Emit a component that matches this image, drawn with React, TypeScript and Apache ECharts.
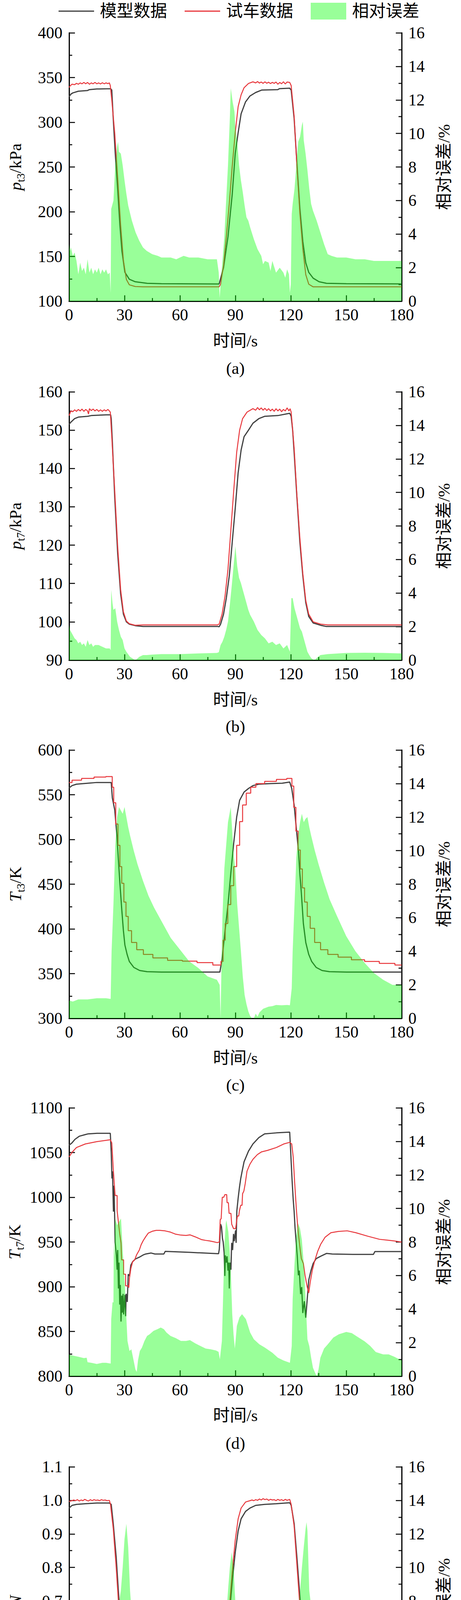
import React, { useEffect, useRef } from 'react';
import * as echarts from 'echarts';

// ---------------- data (time in s) ----------------
const LEGEND_NAMES = ['模型数据', '试车数据', '相对误差'];
const PANEL_LABELS = ['(a)', '(b)', '(c)', '(d)', '(e)'];
const X_NAME = '时间/s';
const RIGHT_NAME = '相对误差/%';

const aModel = [[0,328.6],[1,331.5],[2,332.8],[5,334.7],[10,335.5],[11,336.5],[15,337.2],[22.5,337.5],[23.1,336],[23.9,304],[25,264.5],[26.3,225],[27.5,185],[28.6,156],[30.2,132.3],[32.6,124.5],[35.8,121.7],[42.2,120],[50,119.5],[81.2,119.2],[83.6,137.6],[86,172],[88.3,219.6],[89.9,264.6],[91.5,288.4],[93.1,309.5],[95.5,322.8],[97.9,329.4],[101,333.3],[104.2,336],[113,336.5],[113.8,337.6],[119.4,338.1],[120.2,336],[121.8,304.2],[123.3,254],[124.9,203.7],[126.5,166.7],[128.1,142.9],[129.7,132.3],[132.1,125.7],[135.3,121.7],[139.3,120],[150,119.5],[180,119.3]];
const aTest = [[0,339],[0.5,340.5],[1.6,342.6],[3,342],[4,343.5],[5,342.5],[6,344],[7,343],[8,344.5],[9,343],[10,344.5],[11,342.5],[12,344],[13,343],[14,344.5],[15,343],[16,344],[17,342.8],[18,344.2],[19,343],[20,344],[21,343.2],[21.8,344],[22.3,341],[23.1,325],[24.7,288],[26.3,238],[27.9,185],[29.4,145.5],[31,124.3],[32.6,118.3],[35.8,116.4],[40,116],[81.2,116],[82,119],[83.6,140],[85.1,172],[86.7,209],[88.3,251],[89.9,288],[91.5,317.5],[93.1,330.7],[94.7,338.6],[97.1,343.4],[99.5,345.2],[101,344],[102,345.5],[103,343.8],[104,345],[105,343.5],[106,345.2],[107,343.6],[108,344.8],[109,343.2],[110,344.6],[111,343.5],[112,345],[113,342.5],[114,344.5],[115,343],[116,345.3],[117,342.8],[118,345],[119.4,344.5],[120.2,341],[121.8,307],[123.3,251.3],[124.9,198.4],[126.5,158.7],[128.1,129.6],[129.7,119],[132.1,116],[180,116]];
const aErr = [[0,3.4],[0.5,3.0],[1,3.2],[2,2.7],[3,2.9],[4,2.4],[5,1.6],[6,2.3],[7,1.8],[8,2.0],[9,1.6],[10,2.5],[11,1.7],[12,2.0],[13,1.6],[14,1.9],[15,1.7],[16,2.0],[17,1.6],[18,1.9],[19,1.7],[20,1.9],[21,1.6],[22,1.7],[22.5,0.5],[22.8,5.5],[24,6.0],[25,8.1],[26,9.2],[26.5,9.5],[27,8.9],[28,8.8],[29,8.1],[30,7.2],[31,6.4],[32,5.7],[34,4.8],[36,4.1],[38,3.6],[40,3.2],[42,3.0],[45,2.8],[48,2.7],[50,2.6],[55,2.6],[58,2.5],[60,2.6],[62,2.7],[65,2.6],[70,2.6],[75,2.5],[80,2.5],[81,1.7],[81.5,0.2],[82,1.0],[83,2.4],[84,3.8],[85,6.0],[86,8.1],[87,10.9],[87.5,12.7],[88.5,11.9],[89.5,11.3],[90,10.3],[91,9.5],[92,8.1],[93,7.2],[94,6.5],[95,5.7],[96,5.0],[97,4.8],[98,4.4],[100,3.7],[102,3.1],[104,2.7],[105,2.2],[106,2.4],[108,2.3],[109,1.8],[110,2.4],[112,1.7],[114,2.0],[116,1.7],[117,1.4],[118,1.9],[119,1.6],[119.5,0.5],[120,1.0],[120.5,5.2],[121,5.8],[122,6.7],[123,8.1],[124,9.5],[125,9.8],[126,10.5],[126.5,10.7],[127,9.6],[128,8.8],[129,7.8],[130,6.7],[131,5.8],[132,5.4],[134,4.8],[136,4.1],[138,3.4],[140,2.8],[142,2.7],[145,2.6],[150,2.6],[155,2.5],[160,2.5],[165,2.4],[170,2.4],[175,2.4],[180,2.4]];

const bModel = [[0,151.5],[1,152.1],[3,153],[5,153.4],[10,153.6],[12,153.8],[20,154],[22.5,154],[22.8,153],[23.4,147.1],[24.7,132.5],[26.3,117.8],[27.9,107.3],[29.4,102],[31,100],[32.6,99.4],[35.8,99],[40,98.8],[80.4,98.8],[81.2,98.7],[82,99.4],[83.6,102],[85.1,106.2],[86.7,112],[88.3,120.8],[89.9,129.5],[91.5,138.9],[93.1,144.8],[94.7,148.3],[97.1,150],[99.5,151.8],[102.7,153],[105.8,153.6],[113,153.8],[119.4,154.4],[120.2,153.6],[121,150],[121.8,144.2],[123.3,132.5],[124.9,120.8],[126.5,112],[128.1,105],[129.7,101.4],[132.1,99.7],[136.1,99.1],[139,98.8],[180,98.8]];
const bTest = [[0,153.8],[1,155],[2,154.8],[3,155.3],[4,154.9],[5,155.4],[6,155],[7,155.5],[8,154.9],[9,155.4],[10,155],[10.5,154.2],[11,155.6],[12,155.1],[13,155.5],[14,155],[15,155.4],[16,154.9],[17,155.3],[18,154.9],[19,155.3],[20,155],[21,155.4],[21.8,155],[22.3,154.7],[23.1,148.3],[24.7,134.2],[26.3,119.6],[27.9,108.4],[29.4,102.6],[31,100.2],[32.6,99.5],[35.8,99.1],[40,99.2],[80.4,99.2],[81.2,99.4],[82.8,102],[84.4,106.7],[86,113.7],[87.5,123.6],[89.1,134.2],[90.7,144.2],[92.3,150],[93.9,153],[96.3,154.7],[99.5,155.6],[101,155.2],[102,155.9],[103,155.3],[104,155.8],[105,155.2],[106,155.7],[107,155.1],[108,155.6],[109,155],[110,155.5],[111,154.9],[112,155.6],[113,155],[114,155.5],[115,154.8],[116,155.4],[117,155],[118,155.8],[119,155],[119.6,155.6],[120.2,154.7],[121.8,145.4],[123.3,133],[124.9,121.9],[126.5,112.6],[128.1,105.6],[129.7,102],[132.1,100],[136.1,99.4],[140,99.2],[180,99.2]];
const bErr = [[0,2.1],[0.5,1.8],[1,1.7],[2,1.5],[3,1.3],[4,1.2],[5,1.0],[6,1.1],[7,0.9],[8,1.0],[9,0.8],[10,1.2],[11,0.9],[12,1.0],[13,0.8],[14,0.9],[16,0.9],[18,0.8],[20,0.7],[22,0.7],[22.5,0.6],[22.8,4.2],[23.5,3.4],[24,3.0],[25,3.1],[26,2.3],[27,1.8],[28,1.4],[29,1.2],[30,0.7],[31,0.5],[33,0.2],[35,0.05],[36,0],[38,0.2],[40,0.3],[42,0.3],[45,0.33],[50,0.36],[60,0.36],[70,0.4],[80,0.43],[81,0.47],[82,0.9],[83,1.1],[84,1.4],[85,1.8],[86,2.3],[87,3.3],[88,4.4],[89,5.6],[90,6.8],[91,5.6],[92,4.9],[93,4.6],[94,4.2],[95,3.8],[96,3.4],[97,3.0],[98,2.7],[100,2.3],[102,1.8],[104,1.5],[106,1.3],[108,1.0],[110,1.1],[112,0.9],[114,1.0],[116,0.7],[118,0.9],[119.5,0.5],[120.3,3.7],[121,3.7],[122,3.1],[123,2.7],[124,2.3],[125,1.9],[126,1.7],[127,1.3],[128,0.9],[129,0.5],[130,0.3],[131,0.13],[132,0.04],[133,0],[134,0.13],[136,0.3],[140,0.36],[150,0.43],[160,0.44],[170,0.43],[180,0.4]];

const cModel = [[0,557.6],[1.6,560.2],[4,561.8],[10.3,562.9],[15,563.7],[22.8,563.7],[23.4,546.5],[24.7,533],[25.9,504],[26.6,480],[27.5,451],[28.5,422],[29.4,398],[30.2,382],[31.4,371.5],[32.6,363.6],[35,357],[38.2,353.5],[42.2,352.2],[50,351.7],[81.6,351.7],[82.8,366.2],[84.4,398],[86,427],[87.5,461.6],[89.1,496],[90.7,525],[92.3,543.8],[94.7,553],[97.1,557],[99.5,560.2],[102.7,561.8],[109,562.4],[115.4,562.9],[119.4,564.2],[120.5,557],[121.8,538.5],[123,512],[124.1,488],[124.9,461.6],[125.7,440.4],[126.8,406],[128.1,384.8],[129.7,371.5],[131.3,363.6],[133.7,357],[136.9,353.5],[140.9,352.2],[150,351.7],[180,351.7]];
const cTest = [[0,563.7],[3.2,566.3],[10.3,568.2],[16.7,569.8],[23.1,570.3],[23.6,558.4],[24.7,541],[25.8,517.3],[27.1,493.5],[27.9,469.6],[29.1,451],[30.2,430],[31.4,414],[32.6,398],[35,384.8],[38.2,376.8],[42.2,371.5],[48.5,367.6],[58.1,364.9],[64.5,364],[74,362.3],[81.6,359.6],[82.8,363.6],[83.9,387.4],[85.1,406],[86.7,427.2],[88.3,448.4],[89.9,469.6],[91.5,493.5],[93.1,520],[94.7,538.5],[97.1,551.8],[99.5,558.4],[102.7,562.4],[109,565],[115.4,567.1],[120.2,568.2],[121,559.7],[122.2,535.9],[123.3,509.4],[124.6,488.2],[125.7,467],[126.8,445.8],[128.1,430],[129.7,414],[131.3,400.7],[134.5,384.8],[137.7,376.8],[142.4,371.5],[148.8,368.4],[156.8,365.5],[163.1,363.6],[172.7,361.5],[180,359.6]];
const cErr = [[0,1.06],[2,1.0],[5,1.13],[10,1.13],[15,1.2],[20,1.2],[22.5,1.16],[23,4.0],[24,6.8],[25,10.3],[26,12.0],[27,12.6],[28,12.4],[29,12.2],[30,12.6],[31,12.0],[32,11.4],[33,10.9],[35,10.0],[37,9.2],[40,8.2],[43,7.3],[46,6.6],[50,5.8],[55,4.8],[60,4.1],[65,3.4],[70,3.0],[75,2.5],[80,2.3],[81.5,2.0],[82,0],[82.5,3.3],[83,6.1],[84,8.9],[85,10.3],[86,11.7],[87,12.3],[87.5,12.6],[88,11.7],[89,9.8],[90,8.9],[91,6.8],[92,5.4],[93,4.0],[94,2.5],[95,1.4],[96,0.85],[97,0.42],[98,0.14],[99,0],[100,0],[101,0.28],[102,0.1],[103,0.35],[105,0.57],[108,0.7],[110,0.73],[112,0.8],[115,0.78],[118,0.8],[119.5,0.78],[120.5,1.8],[121,4.0],[122,6.8],[123,9.6],[124,10.9],[125,11.7],[126,12.2],[127,11.7],[128,11.9],[129,12.0],[130,11.4],[131,10.9],[133,10.0],[135,9.2],[138,8.1],[141,7.1],[145,6.1],[150,4.9],[155,4.0],[160,3.3],[165,2.7],[170,2.3],[175,2.0],[180,2.0]];

const dModel = [[0,1058.2],[1.6,1060.9],[3.2,1064.8],[5.6,1068.3],[8.8,1070.1],[10.3,1070.9],[15.1,1071.5],[22.3,1071.5],[22.8,1050.3],[23.2,1021],[23.5,1029],[24,984],[24.3,1013],[24.6,985],[24.9,950],[25.6,935],[26,919],[26.3,941],[26.7,898],[27,927],[27.4,880],[27.7,902],[28.1,861],[28.5,890],[28.8,871],[29.2,892],[29.5,869],[30.2,891],[30.6,867],[30.9,892],[31.5,883],[32,914],[32.7,912],[33.4,924],[34.4,928],[35.9,931],[38,933],[40.1,935.5],[41.5,936.6],[44.3,937.7],[46.4,936.6],[51.3,936.6],[52,939.5],[65.4,938.4],[80.9,936.9],[81.3,942],[82,970],[82.5,967],[83,954],[83.4,950],[83.9,938],[84.3,912],[84.6,935],[85,927],[85.5,934],[86,918],[86.4,927],[86.7,898],[87.1,927],[87.6,919],[88,949],[88.5,941],[89,959],[89.4,951],[90.1,963],[90.4,949],[90.8,985],[91.5,999],[92.2,1011],[92.9,1021],[93.6,1028.5],[94.7,1039.7],[97.1,1051.6],[99.5,1059.6],[102.7,1066.7],[105.8,1070.9],[112.2,1072],[119.4,1072.8],[120.2,1039.7],[120.7,1018.6],[121.3,997.4],[121.8,984.2],[122.3,965.7],[122.9,949.8],[123.5,934],[124.1,912.8],[124.6,918],[125.3,891.7],[125.9,899.6],[126.5,870.6],[127.3,883.8],[128.1,865.3],[128.9,886.4],[129.7,907.5],[130.9,918],[132.1,926],[133.7,931.4],[136.1,934],[139.3,937.2],[142.4,936.6],[153.6,936.1],[164.7,936.1],[165.5,939.3],[180,939.3]];
const dTest = [[0,1045],[1.6,1050.3],[4,1055.6],[8.8,1059.6],[15.1,1062.2],[22.3,1064.3],[23.1,1060.9],[23.9,1031.8],[24.9,1002],[26,1002],[26,985],[26.7,972],[27.4,959],[28.1,949],[28.4,930],[29.5,930],[29.5,914],[30.6,914],[30.6,901],[32,901],[32.3,899],[32.7,910],[33.4,920],[34.4,928],[35.5,930],[36.5,935.5],[38,941],[39,947],[40.1,951.5],[41.5,956],[42.9,960],[45,962],[47.1,963],[49.2,963],[52,962.4],[54.9,961],[57.7,958.7],[60.5,957.7],[63.3,957.3],[65.4,958],[68.2,955.8],[71.8,952.6],[73.9,951.8],[76,951.2],[78.1,950.3],[80.2,949.3],[81.3,950],[81.8,975],[82.3,976],[82.9,1000],[83.7,1000],[84.3,1003],[85.3,1003],[85.5,994],[86.2,994],[86.6,982],[87.6,982],[88,970],[89,965],[90.1,965],[90.4,969],[91.1,979],[91.8,979],[92.2,985],[92.9,991],[93.6,991],[93.9,1004],[94.6,1007],[95.3,1015],[96.3,1029.2],[97.9,1037.1],[99.5,1042.4],[101.9,1047.7],[104.2,1050.8],[107.4,1052.4],[112.2,1055.6],[116.2,1059.6],[119.4,1061.4],[120.5,1059.6],[121.3,1045],[122.1,1016],[123,986.9],[123.8,965.7],[124.9,944.6],[125.7,931.4],[126.8,926],[127.7,912.8],[128.9,899.6],[129.7,893],[130.5,905],[131.6,918],[132.9,928.7],[134.5,939.3],[136.1,947.2],[138.5,955.2],[141.7,960.4],[145.7,961.8],[150.5,962.5],[155.2,960.4],[161.6,956.5],[168,953],[172.7,952],[175.9,951.2],[180,949.9]];
const dErr = [[0,1.3],[2,1.23],[5,1.16],[8,1.08],[9.5,1.1],[10,0.83],[12,0.8],[15,0.73],[18,0.8],[20,0.8],[22.5,0.75],[22.8,3.4],[23.5,4.4],[24,4.4],[24.2,8.0],[24.6,7.1],[24.9,9.4],[26,9.0],[27,9.2],[28.1,9.4],[29,7.5],[30.2,5.4],[30.9,3.7],[31.6,2.1],[32.7,1.5],[33.7,1.6],[34.8,1.0],[35.9,0.4],[36.6,0.25],[37.3,0.95],[38.3,1.5],[39.4,1.7],[40.8,2.1],[42.2,2.4],[43.6,2.5],[45.7,2.7],[47.8,2.8],[49.6,2.9],[51.3,2.8],[52.7,2.6],[54.9,2.4],[57.7,2.27],[60.5,2.1],[63.3,2.1],[65.4,2.15],[68.2,1.96],[71.1,1.8],[73.9,1.65],[76.7,1.6],[79.5,1.53],[80.9,1.45],[81.3,1.2],[81.6,1.0],[82.7,2.1],[83.4,4.9],[84.1,7.85],[84.8,9.1],[85.1,9.3],[86.2,8.6],[86.9,7.5],[87.6,6.0],[88.3,3.7],[89,2.5],[89.7,1.65],[90.1,2.1],[90.8,3.0],[92.2,3.5],[93.6,3.7],[95.7,3.4],[98,2.6],[100,2.2],[103,1.9],[106,1.7],[110,1.4],[113,1.1],[116,0.94],[119.5,0.8],[120.5,1.8],[121,4.6],[122,6.7],[123,8.4],[124,9.1],[125,8.8],[126,8.1],[127,6.7],[128,4.6],[129,2.2],[130,1.8],[131,1.1],[132,0.5],[133,0.24],[134,0],[135,0.4],[136,1.1],[138,1.65],[140,1.9],[143,2.3],[146,2.5],[150,2.64],[153,2.57],[156,2.35],[160,2.07],[163,1.8],[166,1.44],[170,1.3],[173,1.3],[176,1.16],[180,0.94]];

const eModel = [[0,0.977],[1.6,0.985],[4,0.988],[8.8,0.99],[15,0.992],[21.8,0.992],[22.8,0.988],[23.9,0.931],[25.5,0.83],[27.1,0.693],[28.2,0.6],[29.4,0.513],[31,0.441],[32.6,0.405],[35,0.387],[38.2,0.376],[42.2,0.372],[51.7,0.37],[81.2,0.37],[82,0.383],[83.6,0.455],[85.1,0.556],[86.7,0.657],[88.3,0.758],[89.9,0.844],[91.5,0.909],[93.1,0.945],[95.5,0.967],[97.9,0.977],[101,0.985],[105.8,0.988],[112.2,0.99],[119.4,0.993],[120.2,0.985],[121.8,0.931],[123.3,0.83],[124.9,0.714],[126.5,0.6],[128.1,0.505],[129.7,0.441],[131.3,0.405],[133.7,0.383],[137.7,0.374],[142.4,0.37],[164.7,0.37],[166.3,0.367],[180,0.367]];
const eTest = [[0,0.997],[1.6,0.999],[2.5,1.001],[3.5,0.999],[4.5,1.002],[5.5,0.998],[6.5,1.001],[7.5,0.999],[8.5,1.003],[9.5,1.0],[10.5,0.998],[11.5,1.002],[12.5,0.999],[13.5,1.002],[14.5,1.0],[15.5,1.001],[16.5,0.999],[17.5,1.002],[18.5,1.0],[19.5,1.001],[20.5,0.999],[21.8,1.0],[22.4,0.988],[23.9,0.916],[25.5,0.8],[27.1,0.664],[28.2,0.563],[29.4,0.469],[31,0.405],[32.6,0.376],[35,0.365],[39,0.361],[58,0.361],[59,0.359],[64,0.359],[65,0.361],[81.2,0.361],[82,0.376],[83.6,0.462],[85.1,0.57],[86.7,0.678],[88.3,0.787],[89.9,0.88],[91.5,0.945],[93.1,0.977],[95.5,0.995],[97.9,0.999],[99,1.001],[100,0.999],[101,1.002],[102,1.0],[103,1.004],[104,1.001],[105,1.005],[106,1.002],[107,1.004],[108,1.0],[109,1.003],[110,1.001],[111,1.002],[112,0.999],[113,1.003],[114,1.0],[115,1.002],[116,0.999],[117,1.003],[118,1.0],[119.4,1.003],[120.2,0.988],[121.8,0.923],[123.3,0.808],[124.9,0.686],[126.5,0.563],[128.1,0.462],[129.7,0.397],[131.3,0.372],[133.7,0.365],[137.7,0.361],[180,0.361]];
const eErr = [[0,1.66],[1,1.5],[2,1.37],[3,1.3],[4,1.22],[5,1.0],[6,1.15],[7,1.05],[8,1.08],[9,1.0],[10,0.65],[11,1.15],[12,1.05],[13,0.95],[14,1.0],[15,0.9],[16,1.15],[17,1.0],[18,0.94],[20,0.94],[22.5,0.94],[23,3.5],[25,5.0],[26,6.0],[27,7.9],[28,8.6],[29,10.0],[30,11.7],[31,12.6],[32,11.2],[33,8.6],[34,7.1],[35,6.1],[36,5.4],[37,4.8],[38,4.4],[40,3.8],[42,3.4],[43.5,3.3],[44,3.6],[45,3.2],[46,2.8],[52,2.7],[53,2.2],[58.5,2.2],[59,2.8],[63,2.8],[63.5,2.2],[81,2.16],[81.5,0.07],[82,2.8],[83,5.0],[84,6.3],[85,7.0],[86,8.6],[87,10.0],[88,10.9],[89,10.0],[90,7.9],[91,6.0],[92,4.8],[93,4.1],[95,3.4],[97,2.8],[100,2.2],[103,1.8],[105,1.5],[108,1.2],[110,1.15],[112,1.0],[115,0.8],[118,0.65],[119.5,0.5],[120,2.8],[121,3.7],[122,4.25],[123,5.7],[124,7.1],[125,8.6],[126,10.0],[127,11.2],[128,12.3],[128.5,12.7],[129,12.2],[130,8.6],[131,7.7],[132,7.1],[134,5.7],[136,4.5],[138,3.5],[140,2.8],[142,2.4],[146,2.4],[147,2.2],[165,2.2],[166,1.95],[180,1.95]];

// ---------------- layout / style ----------------
const FONT = '"Liberation Serif", "Times New Roman", "Noto Sans CJK SC", serif';
const W = 1181;
const H = 4612;
const GRID_LEFT = 177;
const GRID_RIGHT = 152;
const PANEL_TOPS = [84, 1003, 1920, 2836, 3755];
const PLOT_H = 687;
const LABEL_Y = [942, 1859, 2777, 3694, 4587];
const X_NAME_GAP = [80, 80, 80, 79, 66];
const BLACK = '#404040';
const RED = '#e8383d';
const GREEN = 'rgba(0,255,0,0.4)';
const LINE_ICON = 'path://M0 0H91V3H0Z';

const panels = [
  { model: aModel, test: aTest, err: aErr, min: 100, max: 400, interval: 50, name: '{i|p}{s|t3}{n|/kPa}', step: false, dec: 0 },
  { model: bModel, test: bTest, err: bErr, min: 90, max: 160, interval: 10, name: '{i|p}{s|t7}{n|/kPa}', step: false, dec: 0 },
  { model: cModel, test: cTest, err: cErr, min: 300, max: 600, interval: 50, name: '{i|T}{s|t3}{n|/K}', step: 'middle', dec: 0 },
  { model: dModel, test: dTest, err: dErr, min: 800, max: 1100, interval: 50, name: '{i|T}{s|t7}{n|/K}', step: false, dec: 0 },
  { model: eModel, test: eTest, err: eErr, min: 0.3, max: 1.1, interval: 0.1, name: '{i|N}', step: false, dec: 1 },
];

const axisLine = { show: true, onZero: false, lineStyle: { color: '#000', width: 3 } };
const axisTick = { show: true, inside: true, length: 15, lineStyle: { color: '#000', width: 2.5 } };
const minorTick = { show: true, splitNumber: 2, length: 8, lineStyle: { color: '#000', width: 2.5 } };
const labelStyle = { fontSize: 42, lineHeight: 32, fontFamily: FONT, color: '#000' };
const nameStyle = { fontSize: 43, fontFamily: FONT, color: '#000' };

function buildOption() {
  const grid = panels.map((_, i) => ({ left: GRID_LEFT, right: GRID_RIGHT, top: PANEL_TOPS[i], height: PLOT_H, show: false }));
  const xAxis = panels.map((_, i) => ({
    type: 'value', gridIndex: i, min: 0, max: 180, interval: 30,
    axisLine, axisTick, minorTick,
    splitLine: { show: false }, minorSplitLine: { show: false },
    axisLabel: { ...labelStyle, margin: 19 },
    name: X_NAME, nameLocation: 'middle', nameGap: X_NAME_GAP[i], nameTextStyle: nameStyle,
  }));
  const yAxis: any[] = [];
  panels.forEach((p, i) => {
    yAxis.push({
      type: 'value', gridIndex: i, position: 'left', min: p.min, max: p.max, interval: p.interval,
      axisLine, axisTick, minorTick,
      splitLine: { show: false }, minorSplitLine: { show: false },
      axisLabel: { ...labelStyle, margin: 17, formatter: (v: number) => v.toFixed(p.dec) },
      name: p.name, nameLocation: 'middle', nameGap: 110, nameRotate: 90,
      nameTextStyle: {
        ...nameStyle,
        rich: {
          i: { fontSize: 43, fontFamily: FONT, fontStyle: 'italic', color: '#000', lineHeight: 56 },
          s: { fontSize: 29, fontFamily: FONT, color: '#000', lineHeight: 30, verticalAlign: 'bottom' },
          n: { fontSize: 43, fontFamily: FONT, color: '#000', lineHeight: 56 },
        },
      },
    });
    yAxis.push({
      type: 'value', gridIndex: i, position: 'right', min: 0, max: 16, interval: 2,
      axisLine, axisTick, minorTick,
      splitLine: { show: false }, minorSplitLine: { show: false },
      axisLabel: { ...labelStyle, margin: 17 },
      name: RIGHT_NAME, nameLocation: 'middle', nameGap: 87, nameRotate: 90, nameTextStyle: nameStyle,
    });
  });
  const series: any[] = [];
  panels.forEach((p, i) => {
    series.push({
      name: LEGEND_NAMES[0], type: 'line', xAxisIndex: i, yAxisIndex: 2 * i, data: p.model,
      symbol: 'none', showSymbol: false, lineStyle: { color: BLACK, width: 3 }, itemStyle: { color: BLACK }, z: 2,
    });
    series.push({
      name: LEGEND_NAMES[1], type: 'line', xAxisIndex: i, yAxisIndex: 2 * i, data: p.test, step: p.step,
      symbol: 'none', showSymbol: false, lineStyle: { color: RED, width: 2.5 }, itemStyle: { color: RED }, z: 2,
    });
    series.push({
      name: LEGEND_NAMES[2], type: 'line', xAxisIndex: i, yAxisIndex: 2 * i + 1, data: p.err,
      symbol: 'none', showSymbol: false, lineStyle: { color: GREEN, width: 0 }, itemStyle: { color: GREEN },
      areaStyle: { color: GREEN, opacity: 1 }, z: 3,
    });
  });
  return {
    animation: false,
    backgroundColor: '#fff',
    legend: {
      top: 2, left: 145, itemWidth: 91, itemHeight: 43, itemGap: 45, selectedMode: false,
      textStyle: { fontSize: 43, fontFamily: FONT, color: '#000', padding: [0, 0, 0, 10] },
      data: [
        { name: LEGEND_NAMES[0], icon: LINE_ICON, itemStyle: { color: BLACK, borderWidth: 0 } },
        { name: LEGEND_NAMES[1], icon: LINE_ICON, itemStyle: { color: RED, borderWidth: 0 } },
        { name: LEGEND_NAMES[2], icon: 'rect', itemStyle: { color: GREEN, borderWidth: 0 } },
      ],
    },
    grid, xAxis, yAxis, series,
    graphic: PANEL_LABELS.map((t, i) => ({
      type: 'text', x: GRID_LEFT + (W - GRID_LEFT - GRID_RIGHT) / 2, y: LABEL_Y[i],
      style: { text: t, fontSize: 43, fontFamily: FONT, fill: '#000', align: 'center', verticalAlign: 'middle' },
    })),
  };
}

export default function App() {
  const ref = useRef<HTMLDivElement>(null);
  useEffect(() => {
    document.body.style.margin = '0';
    const chart = echarts.init(ref.current as HTMLDivElement, null, { renderer: 'svg' });
    chart.setOption(buildOption() as any);
    return () => chart.dispose();
  }, []);
  return <div ref={ref} style={{ width: W, height: H }} />;
}
